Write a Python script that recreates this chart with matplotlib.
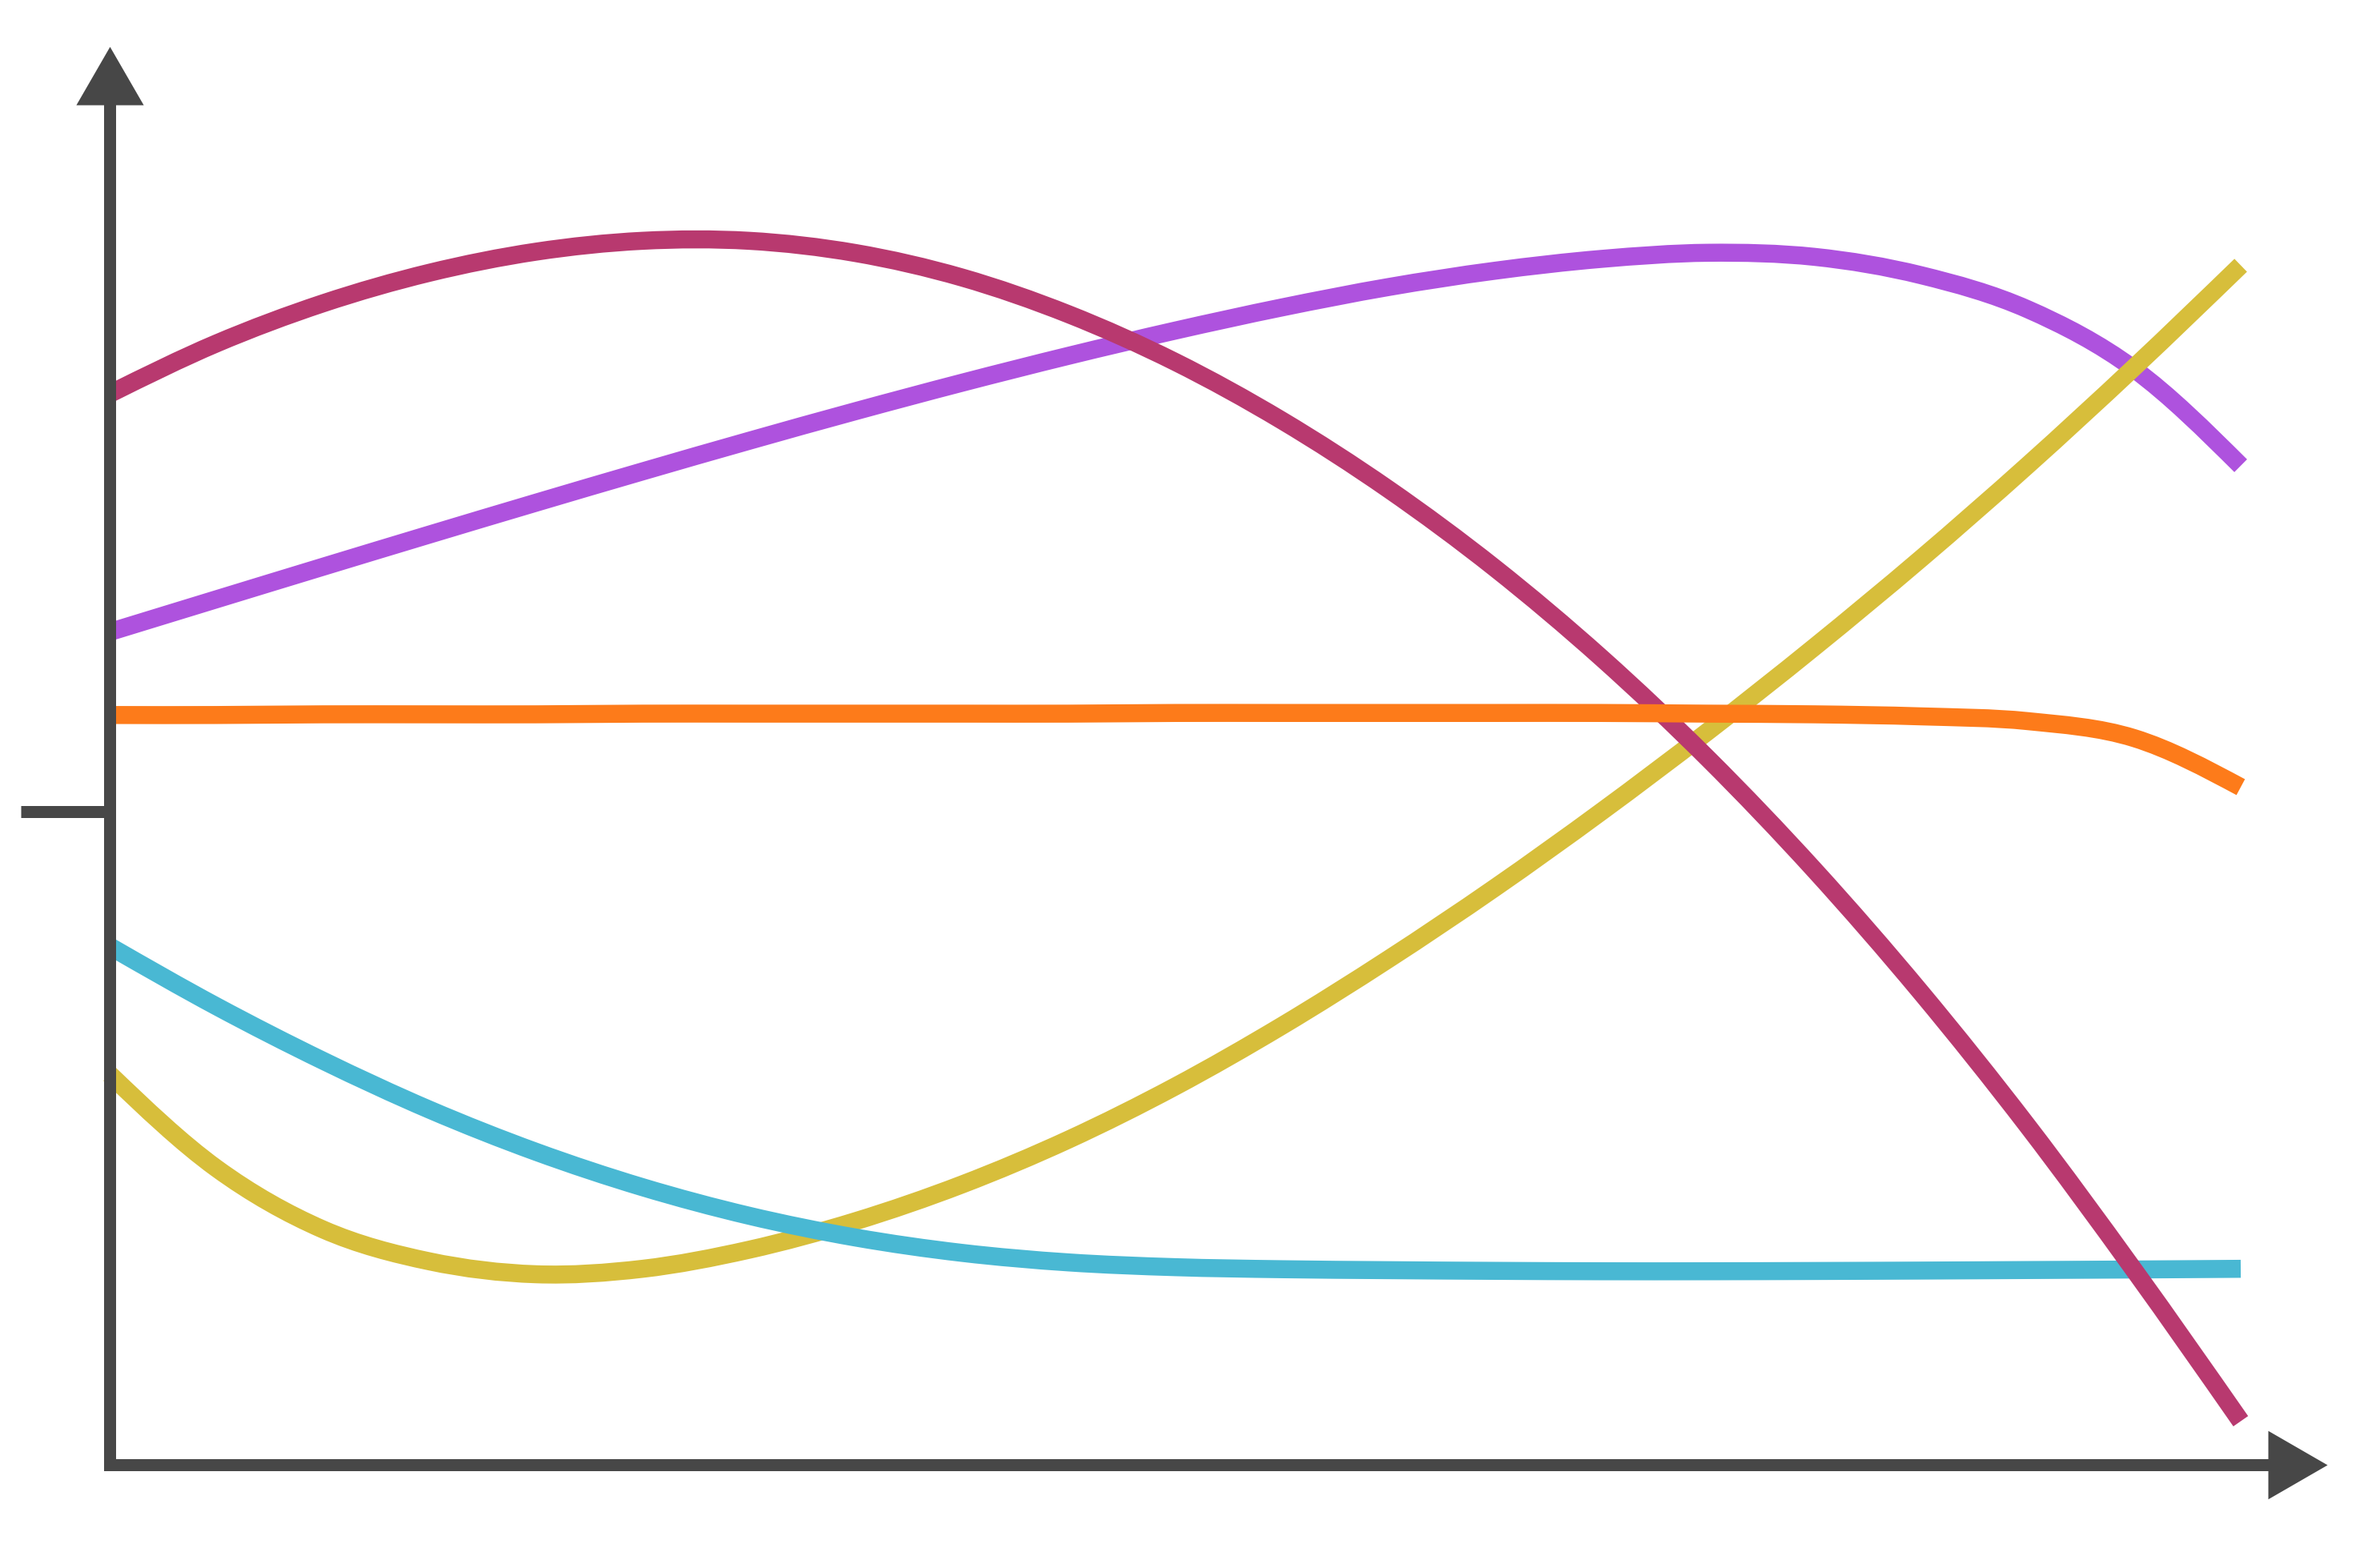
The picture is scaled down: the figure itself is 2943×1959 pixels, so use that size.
import numpy as np
import matplotlib
matplotlib.use("Agg")
import matplotlib.pyplot as plt
from matplotlib.path import Path
from matplotlib.patches import PathPatch

# values (x in arbitrary units 0..10)
x_vals = [0.0, 0.5, 1.0, 1.5, 2.0, 2.5, 3.0, 3.5, 4.0, 4.5, 5.0,
          5.5, 6.0, 6.5, 7.0, 7.5, 8.0, 8.5, 9.0, 9.5, 10.0]

pink = [7.87, 8.24, 8.535, 8.76, 8.915, 8.995, 8.995, 8.905, 8.725, 8.455, 8.105,
        7.675, 7.17, 6.59, 5.93, 5.19, 4.37, 3.47, 2.49, 1.43, 0.32]
purple = [6.12, 6.36, 6.599, 6.836, 7.07, 7.30, 7.525, 7.743, 7.952, 8.15, 8.335,
          8.505, 8.655, 8.775, 8.862, 8.907, 8.877, 8.742, 8.492, 8.052, 7.342]
orange = [5.51, 5.51, 5.515, 5.515, 5.515, 5.52, 5.52, 5.52, 5.52, 5.52, 5.525,
          5.525, 5.525, 5.525, 5.525, 5.52, 5.515, 5.50, 5.465, 5.34, 4.98]
cyan = [3.81, 3.37, 2.97, 2.61, 2.30, 2.04, 1.83, 1.67, 1.557, 1.487, 1.452,
        1.437, 1.43, 1.425, 1.422, 1.422, 1.424, 1.427, 1.431, 1.435, 1.44]
yellow = [2.87, 2.18, 1.73, 1.495, 1.40, 1.44, 1.58, 1.79, 2.06, 2.39, 2.78,
          3.225, 3.715, 4.24, 4.80, 5.39, 6.01, 6.66, 7.345, 8.065, 8.815]

y_ticks = [4.8]

# draw order bottom -> top
series = [
    (purple, '#ae52de'),
    (yellow, '#d7be3b'),
    (cyan, '#49b8d3'),
    (pink, '#b8396f'),
    (orange, '#fd7b1a'),
]

axis_color = '#474747'


def smooth_path(xs, ys):
    # cubic bezier through the points (cardinal-style tangents)
    xs = np.asarray(xs, float)
    ys = np.asarray(ys, float)
    h = np.diff(xs)
    s = np.diff(ys) / h
    m = np.empty_like(ys)
    m[1:-1] = (ys[2:] - ys[:-2]) / (xs[2:] - xs[:-2])
    m[0] = (3 * s[0] - m[1]) / 2
    m[-1] = (3 * s[-1] - m[-2]) / 2
    verts = [(xs[0], ys[0])]
    codes = [Path.MOVETO]
    for i in range(len(xs) - 1):
        d = h[i] / 3
        verts += [(xs[i] + d, ys[i] + m[i] * d),
                  (xs[i + 1] - d, ys[i + 1] - m[i + 1] * d),
                  (xs[i + 1], ys[i + 1])]
        codes += [Path.CURVE4] * 3
    return Path(verts, codes)


W, H = 2943, 1959
fig = plt.figure(figsize=(W / 100, H / 100), dpi=100)
fig.patch.set_facecolor('white')

# layout in pixels
org_x, org_y = 137, 1830
right_px, top_px = 2833, 131
px_per_x, px_per_y = 266.2, 170.0

ax = fig.add_axes([org_x / W, (H - org_y) / H,
                   (right_px - org_x) / W, (org_y - top_px) / H])
xmax = (right_px - org_x) / px_per_x
ymax = (org_y - top_px) / px_per_y
ax.set_xlim(0, xmax)
ax.set_ylim(0, ymax)
ax.set_facecolor('none')

for i, (vals, col) in enumerate(series):
    patch = PathPatch(smooth_path(x_vals, vals), facecolor='none', edgecolor=col,
                      lw=16.2, capstyle='butt', joinstyle='round',
                      zorder=1.1 + 0.1 * i, clip_on=False)
    ax.add_patch(patch)

for side in ['top', 'right']:
    ax.spines[side].set_visible(False)
for side in ['left', 'bottom']:
    ax.spines[side].set_color(axis_color)
    ax.spines[side].set_linewidth(10.8)
    ax.spines[side].set_capstyle('projecting')
    ax.spines[side].set_zorder(3)

ax.set_xticks([])
ax.set_yticks(y_ticks)
ax.tick_params(axis='y', length=80, width=10.8, color=axis_color,
               labelleft=False, direction='out')

# arrow heads
up_head = [(-0.5774, 0), (0.5774, 0), (0, 1)]
right_head = [(0, -0.5774), (0, 0.5774), (1, 0)]
ax.plot([0], [ymax], marker=up_head, ms=105, color=axis_color, mew=0,
        clip_on=False, zorder=4)
ax.plot([xmax], [0], marker=right_head, ms=106.6, color=axis_color, mew=0,
        clip_on=False, zorder=4)

fig.savefig('out.png', dpi=100, facecolor='white')
